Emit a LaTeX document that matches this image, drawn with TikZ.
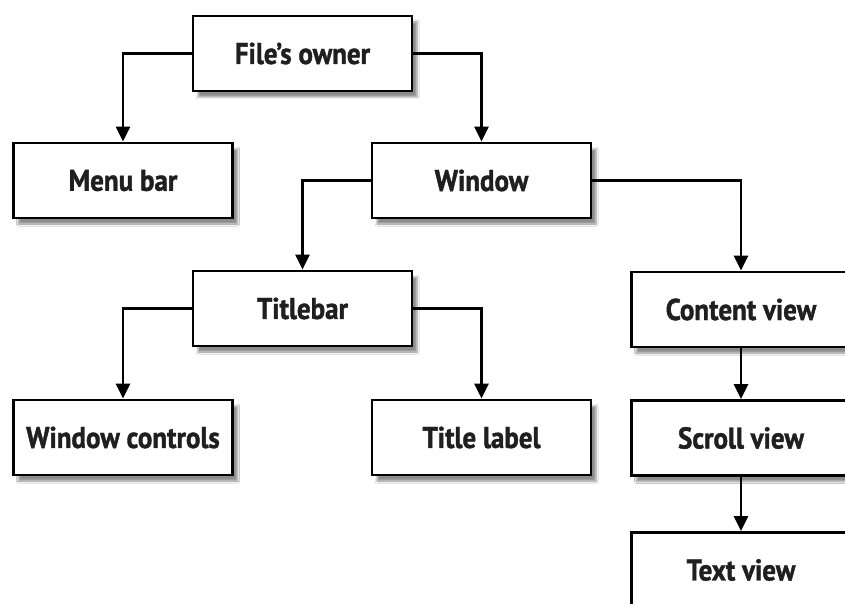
\documentclass[tikz,border=0pt]{standalone}
\usepackage{fontspec}
\setmainfont{PT Sans}[FakeStretch=0.9, BoldFeatures={FakeBold=1.3}]
\usetikzlibrary{arrows.meta,shadows.blur}
\tikzset{box/.style={draw=black, line width=2.8pt, fill=white, minimum width=219pt,
  minimum height=75pt, font=\fontsize{30}{33}\selectfont\bfseries, text=black!88,
  blur shadow={shadow xshift=5pt, shadow yshift=-6pt, shadow blur steps=6, shadow opacity=45}},
  conn/.style={line width=2.6pt, -{Triangle[length=15pt,width=14pt]}}}

\begin{document}
\begin{tikzpicture}[x=1pt, y=-1pt]
  \useasboundingbox (0,0) rectangle (845,604);
  \clip (0,0) rectangle (845,604);
  \fill[white] (0,0) rectangle (845,604);
  % top level
  \node[box] (owner) at (302.5,53.5) {File’s owner};
  \node[box] (menubar) at (123,180.5) {Menu bar};
  \node[box] (window) at (481.5,180.5) {Window};
  % under window
  \node[box] (titlebar) at (302.5,308.5) {Titlebar};
  \node[box] (content) at (741,309.5) {Content view};
  \node[box] (controls) at (123,437.5) {Window controls};
  \node[box] (titlelabel) at (481.5,437.5) {Title label};
  \node[box] (scroll) at (741,438) {Scroll view};
  \node[box] (textview) at (741,570) {Text view};
  % connectors
  \draw[conn] (owner.west) -| (menubar.north);
  \draw[conn] (owner.east) -| (window.north);
  \draw[conn] (window.west) -| (titlebar.north);
  \draw[conn] (window.east) -| (content.north);
  \draw[conn] (titlebar.west) -| (controls.north);
  \draw[conn] (titlebar.east) -| (titlelabel.north);
  \draw[conn] (content) -- (scroll);
  \draw[conn] (scroll) -- (textview);
\end{tikzpicture}
\end{document}
